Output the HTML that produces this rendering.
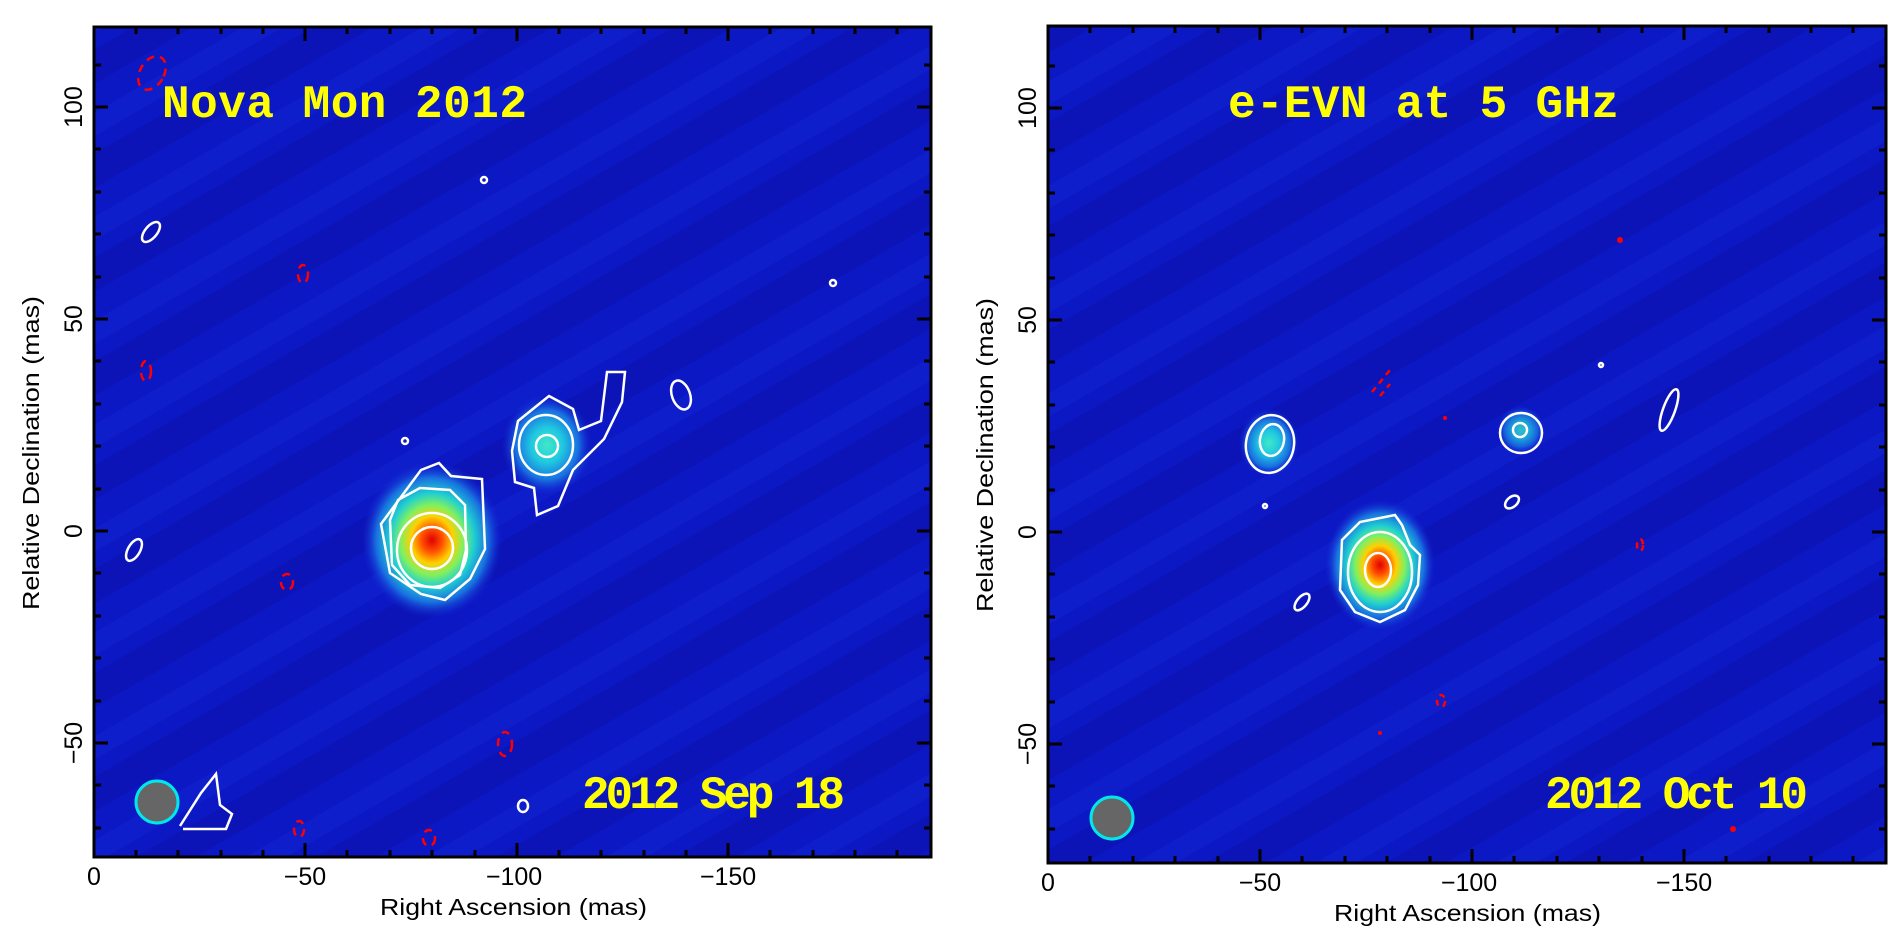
<!DOCTYPE html>
<html><head><meta charset="utf-8"><style>
html,body{margin:0;padding:0;background:#fff;}
svg{display:block;}
text{font-family:"Liberation Sans",sans-serif;}
.t{font-family:"Liberation Mono",monospace;font-weight:bold;fill:#ffff00;font-size:46px;}
</style></head><body>
<svg width="1903" height="933" viewBox="0 0 1903 933" xmlns="http://www.w3.org/2000/svg">
<defs>
<pattern id="stripe" width="90" height="90" patternUnits="userSpaceOnUse" patternTransform="rotate(-30)">
<rect width="90" height="90" fill="#0c18c4"/>
<rect width="90" height="30" fill="#0a10a8" opacity="0.45"/>
<rect y="55" width="90" height="20" fill="#1428d4" opacity="0.4"/>
</pattern>
<radialGradient id="hot">
<stop offset="0" stop-color="#e00000"/>
<stop offset="0.15" stop-color="#ff5000"/>
<stop offset="0.3" stop-color="#ffd000"/>
<stop offset="0.45" stop-color="#80f060"/>
<stop offset="0.6" stop-color="#20d0d0"/>
<stop offset="0.8" stop-color="#1870e0"/>
<stop offset="1" stop-color="#1428d4" stop-opacity="0"/>
</radialGradient>
<radialGradient id="mid">
<stop offset="0" stop-color="#40e8c8"/>
<stop offset="0.35" stop-color="#20c8e0"/>
<stop offset="0.7" stop-color="#1870e0"/>
<stop offset="1" stop-color="#1428d4" stop-opacity="0"/>
</radialGradient>
</defs>

<!-- LEFT PANEL -->
<rect x="94" y="27" width="837" height="830" fill="url(#stripe)"/>
<ellipse cx="432" cy="540" rx="70" ry="78" fill="url(#hot)"/>
<ellipse cx="547" cy="445" rx="45" ry="50" fill="url(#mid)"/>
<g fill="none" stroke="#fff" stroke-width="2.5">
<circle cx="432" cy="548" r="21"/>
<ellipse cx="432" cy="550" rx="35" ry="37"/>
<path d="M398,500 L420,488 L450,490 L465,505 L466,550 L460,575 L440,588 L410,585 L392,565 L390,520 Z"/>
<path d="M381,524 L421,470 L439,463 L451,476 L482,479 L485,549 L470,579 L445,600 L421,594 L390,573 Z"/>
<circle cx="547" cy="446" r="11"/>
<ellipse cx="546" cy="445" rx="27" ry="30"/>
<path d="M518,421 L549,396 L573,409 L579,430 L601,421 L607,372 L625,372 L622,402 L604,439 L573,470 L558,506 L537,515 L534,488 L515,482 L512,451 Z"/>
<ellipse cx="151" cy="232" rx="6" ry="12" transform="rotate(40 151 232)"/>
<ellipse cx="134" cy="550" rx="6" ry="12" transform="rotate(30 134 550)"/>
<ellipse cx="523" cy="806" rx="5" ry="6"/>
<ellipse cx="681" cy="395" rx="9" ry="15" transform="rotate(-20 681 395)"/>
<path d="M180,826 L201,793 L216,774 L220,805 L232,814 L226,829 L183,829"/>
<circle cx="405" cy="441" r="3"/>
<circle cx="484" cy="180" r="3"/>
<circle cx="833" cy="283" r="3"/>
</g>
<g fill="none" stroke="#f00" stroke-width="2.5" stroke-dasharray="8,6">
<ellipse cx="152" cy="73" rx="12" ry="18" transform="rotate(30 152 73)"/>
<ellipse cx="146" cy="371" rx="5" ry="10"/>
<ellipse cx="303" cy="274" rx="5" ry="9"/>
<ellipse cx="287" cy="582" rx="6" ry="8"/>
<ellipse cx="505" cy="744" rx="7" ry="12"/>
<ellipse cx="299" cy="829" rx="5" ry="8"/>
<ellipse cx="429" cy="838" rx="6" ry="8"/>
</g>
<circle cx="157" cy="802" r="21" fill="#666" stroke="#00e8e8" stroke-width="3"/>
<text class="t" x="162" y="117" textLength="365" lengthAdjust="spacing">Nova Mon 2012</text>
<text class="t" x="582" y="808" textLength="263" lengthAdjust="spacing">2012 Sep 18</text>
<rect x="94" y="27" width="837" height="830" fill="none" stroke="#000" stroke-width="3"/>
<g stroke="#000" stroke-width="3">
<path d="M94,107h14M94,319h14M94,531h14M94,743h14M931,107h-14M931,319h-14M931,531h-14M931,743h-14"/>
<path d="M94,857v-14M305,857v-14M517,857v-14M728,857v-14M94,27v14M305,27v14M517,27v14M728,27v14"/>
<path d="M94,65h7M94,149h7M94,192h7M94,234h7M94,277h7M94,361h7M94,404h7M94,446h7M94,489h7M94,573h7M94,616h7M94,658h7M94,701h7M94,785h7M94,828h7"/>
<path d="M931,65h-7M931,149h-7M931,192h-7M931,234h-7M931,277h-7M931,361h-7M931,404h-7M931,446h-7M931,489h-7M931,573h-7M931,616h-7M931,658h-7M931,701h-7M931,785h-7M931,828h-7"/>
<path d="M136,857v-7M178,857v-7M221,857v-7M263,857v-7M347,857v-7M390,857v-7M432,857v-7M475,857v-7M559,857v-7M601,857v-7M644,857v-7M686,857v-7M770,857v-7M813,857v-7M855,857v-7M897,857v-7"/>
<path d="M136,27v7M178,27v7M221,27v7M263,27v7M347,27v7M390,27v7M432,27v7M475,27v7M559,27v7M601,27v7M644,27v7M686,27v7M770,27v7M813,27v7M855,27v7M897,27v7"/>
</g>
<g font-size="25" fill="#000">
<text x="94" y="885" text-anchor="middle">0</text>
<text x="305" y="885" text-anchor="middle">−50</text>
<text x="514" y="885" text-anchor="middle">−100</text>
<text x="728" y="885" text-anchor="middle">−150</text>
<text transform="translate(82,107) rotate(-90)" text-anchor="middle">100</text>
<text transform="translate(82,319) rotate(-90)" text-anchor="middle">50</text>
<text transform="translate(82,531) rotate(-90)" text-anchor="middle">0</text>
<text transform="translate(82,743) rotate(-90)" text-anchor="middle">−50</text>
<text x="380" y="915" font-size="23" textLength="267" lengthAdjust="spacingAndGlyphs">Right Ascension  (mas)</text>
<text transform="translate(39,610) rotate(-90)" font-size="23" textLength="314" lengthAdjust="spacingAndGlyphs">Relative Declination  (mas)</text>
</g>

<!-- RIGHT PANEL -->
<rect x="1048" y="26" width="838" height="837" fill="url(#stripe)"/>
<ellipse cx="1380" cy="565" rx="55" ry="65" fill="url(#hot)"/>
<ellipse cx="1269" cy="443" rx="30" ry="34" fill="url(#mid)"/>
<ellipse cx="1521" cy="430" rx="24" ry="24" fill="url(#mid)" opacity="0.8"/>
<g fill="none" stroke="#fff" stroke-width="2.5">
<ellipse cx="1378" cy="570" rx="13" ry="17"/>
<ellipse cx="1380" cy="572" rx="32" ry="40"/>
<path d="M1342,540 L1360,522 L1395,515 L1402,525 L1410,545 L1420,555 L1418,585 L1405,610 L1380,622 L1355,612 L1340,590 Z"/>
<ellipse cx="1270" cy="444" rx="24" ry="29" transform="rotate(10 1270 444)"/>
<ellipse cx="1272" cy="440" rx="12" ry="16" transform="rotate(10 1272 440)"/>
<ellipse cx="1521" cy="433" rx="21" ry="20"/>
<ellipse cx="1520" cy="430" rx="7" ry="7"/>
<ellipse cx="1302" cy="602" rx="5" ry="10" transform="rotate(40 1302 602)"/>
<ellipse cx="1512" cy="502" rx="5" ry="8" transform="rotate(50 1512 502)"/>
<ellipse cx="1669" cy="410" rx="6" ry="22" transform="rotate(20 1669 410)"/>
<circle cx="1265" cy="506" r="2"/>
<circle cx="1601" cy="365" r="2"/>
</g>
<g fill="none" stroke="#f00" stroke-width="2.5" stroke-dasharray="6,5">
<path d="M1372,392 L1390,370"/>
<path d="M1380,396 L1390,384"/>
<ellipse cx="1441" cy="701" rx="4" ry="6"/>
<ellipse cx="1640" cy="545" rx="3" ry="6"/>
</g>
<g fill="#f00"><circle cx="1620" cy="240" r="3"/><circle cx="1733" cy="829" r="3"/><circle cx="1445" cy="418" r="2"/><circle cx="1380" cy="733" r="2"/></g>
<circle cx="1112" cy="818" r="21" fill="#666" stroke="#00e8e8" stroke-width="3"/>
<text class="t" x="1228" y="117" textLength="391" lengthAdjust="spacing">e-EVN at 5 GHz</text>
<text class="t" x="1545" y="808" textLength="263" lengthAdjust="spacing">2012 Oct 10</text>
<rect x="1048" y="26" width="838" height="837" fill="none" stroke="#000" stroke-width="3"/>
<g stroke="#000" stroke-width="3">
<path d="M1048,108h14M1048,320h14M1048,532h14M1048,744h14M1886,108h-14M1886,320h-14M1886,532h-14M1886,744h-14"/>
<path d="M1048,863v-14M1260,863v-14M1472,863v-14M1684,863v-14M1048,26v14M1260,26v14M1472,26v14M1684,26v14"/>
<path d="M1048,66h7M1048,150h7M1048,193h7M1048,235h7M1048,278h7M1048,362h7M1048,405h7M1048,447h7M1048,490h7M1048,574h7M1048,617h7M1048,659h7M1048,702h7M1048,786h7M1048,829h7"/>
<path d="M1886,66h-7M1886,150h-7M1886,193h-7M1886,235h-7M1886,278h-7M1886,362h-7M1886,405h-7M1886,447h-7M1886,490h-7M1886,574h-7M1886,617h-7M1886,659h-7M1886,702h-7M1886,786h-7M1886,829h-7"/>
<path d="M1090,863v-7M1133,863v-7M1175,863v-7M1218,863v-7M1302,863v-7M1345,863v-7M1387,863v-7M1430,863v-7M1514,863v-7M1557,863v-7M1599,863v-7M1642,863v-7M1726,863v-7M1769,863v-7M1811,863v-7M1853,863v-7"/>
<path d="M1090,26v7M1133,26v7M1175,26v7M1218,26v7M1302,26v7M1345,26v7M1387,26v7M1430,26v7M1514,26v7M1557,26v7M1599,26v7M1642,26v7M1726,26v7M1769,26v7M1811,26v7M1853,26v7"/>
</g>
<g font-size="25" fill="#000">
<text x="1048" y="891" text-anchor="middle">0</text>
<text x="1260" y="891" text-anchor="middle">−50</text>
<text x="1469" y="891" text-anchor="middle">−100</text>
<text x="1684" y="891" text-anchor="middle">−150</text>
<text transform="translate(1036,108) rotate(-90)" text-anchor="middle">100</text>
<text transform="translate(1036,320) rotate(-90)" text-anchor="middle">50</text>
<text transform="translate(1036,532) rotate(-90)" text-anchor="middle">0</text>
<text transform="translate(1036,744) rotate(-90)" text-anchor="middle">−50</text>
<text x="1334" y="921" font-size="23" textLength="267" lengthAdjust="spacingAndGlyphs">Right Ascension  (mas)</text>
<text transform="translate(993,612) rotate(-90)" font-size="23" textLength="314" lengthAdjust="spacingAndGlyphs">Relative Declination  (mas)</text>
</g>
</svg>
</body></html>
